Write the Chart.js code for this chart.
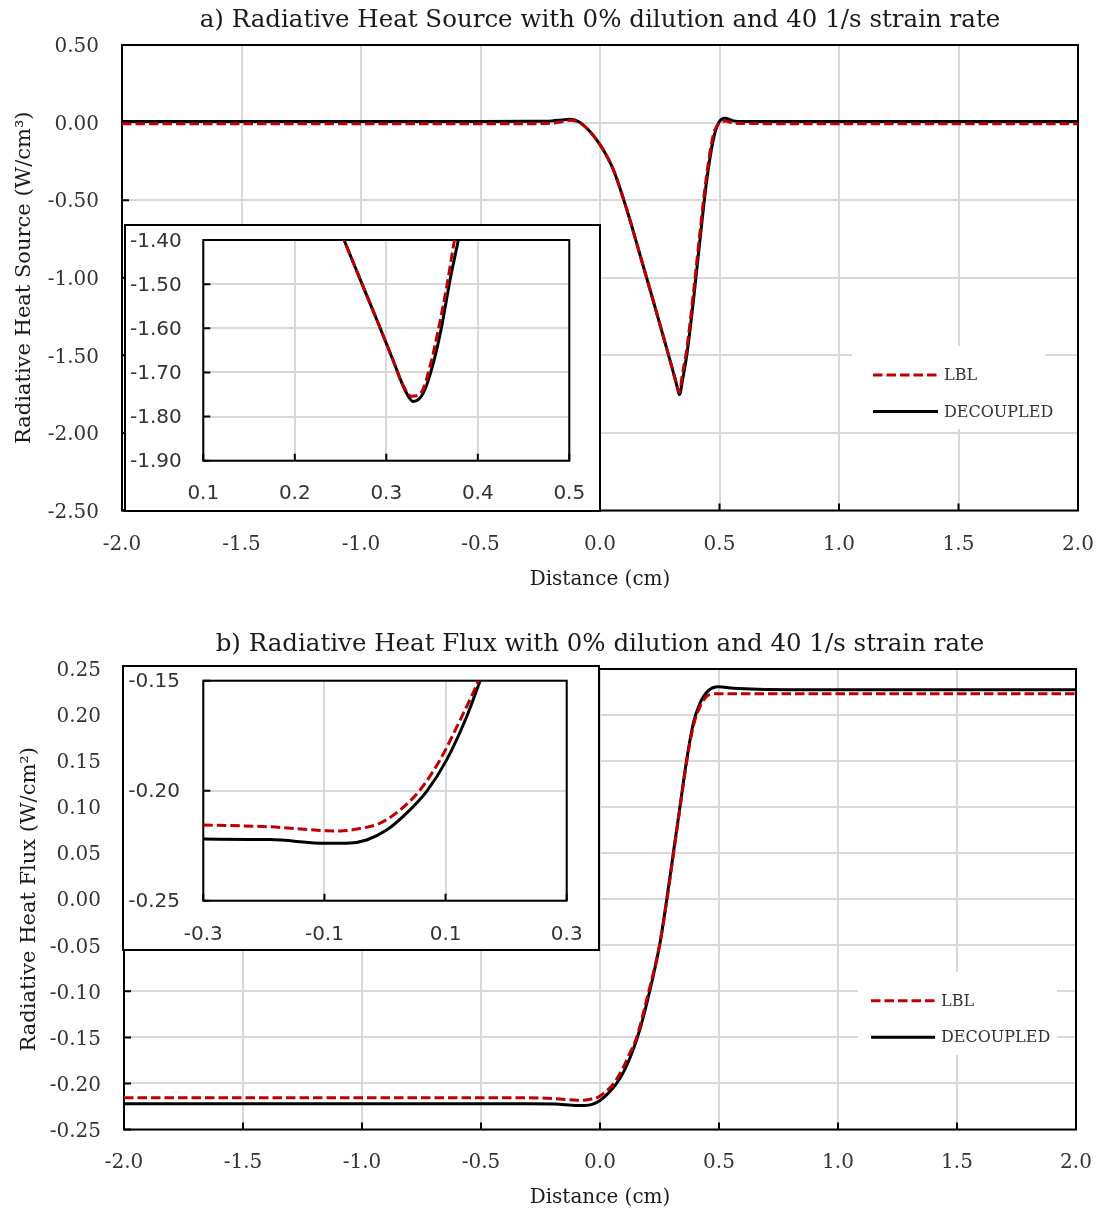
<!DOCTYPE html>
<html>
<head>
<meta charset="utf-8">
<script src="https://cdn.jsdelivr.net/npm/chart.js@4.4.1/dist/chart.umd.min.js"></script>
<style>
  body { margin: 0; background: #fff; }
  #wrap { position: relative; width: 1101px; height: 1213px; overflow: hidden; }
  #wrap canvas { position: absolute; left: 0; top: 0; }
  .inset { position: absolute; box-sizing: border-box; border: 2px solid #000; background: #fff; }
  .inset canvas { position: absolute; left: 0; top: 0; }
</style>
</head>
<body>
<div id="wrap">
  <canvas id="srcChart" width="1101" height="600" style="top:0"></canvas>
  <div class="inset" style="left:124px;top:224px;width:477px;height:288px">
    <canvas id="srcInset" width="473" height="284"></canvas>
  </div>
  <canvas id="fluxChart" width="1101" height="593" style="top:620px"></canvas>
  <div class="inset" style="left:122px;top:665px;width:478px;height:286px">
    <canvas id="fluxInset" width="474" height="282"></canvas>
  </div>
</div>
<script>
// a) radiative heat source, full range
const srcX   = [-2.0, -1.0, -0.5, -0.3, -0.2, -0.16, -0.125, -0.085, -0.042, -0.014, 0.014, 0.056, 0.112, 0.167, 0.223, 0.279, 0.305, 0.318, 0.327, 0.332, 0.337, 0.343, 0.363, 0.39, 0.418, 0.446, 0.474, 0.495, 0.523, 0.558, 0.6, 0.8, 1.2, 2.0];
const srcDec = [0.007, 0.007, 0.007, 0.008, 0.011, 0.017, 0.021, 0.002, -0.058, -0.111, -0.176, -0.304, -0.56, -0.85, -1.15, -1.455, -1.60, -1.675, -1.728, -1.752, -1.735, -1.68, -1.50, -1.16, -0.76, -0.38, -0.11, -0.005, 0.028, 0.011, 0.007, 0.007, 0.007, 0.007];
const srcLbl = [-0.007, -0.007, -0.007, -0.007, -0.004, 0.006, 0.015, 0.0, -0.058, -0.111, -0.176, -0.304, -0.56, -0.85, -1.15, -1.455, -1.60, -1.671, -1.72, -1.738, -1.71, -1.64, -1.46, -1.11, -0.71, -0.34, -0.08, -0.01, 0.01, -0.003, -0.006, -0.007, -0.007, -0.007];

// a) inset, 0.1 - 0.5 cm
const srcInsetDecX = [0.245, 0.2538, 0.271, 0.2895, 0.3077, 0.3204, 0.3295, 0.3404, 0.3514, 0.3605, 0.3696, 0.3787, 0.385];
const srcInsetDec  = [-1.355, -1.40, -1.487, -1.580, -1.674, -1.740, -1.766, -1.747, -1.679, -1.596, -1.491, -1.40, -1.33];
const srcInsetLblX = [0.245, 0.2538, 0.271, 0.2895, 0.3077, 0.318, 0.3277, 0.3386, 0.3477, 0.3568, 0.366, 0.3745, 0.38];
const srcInsetLbl  = [-1.355, -1.40, -1.487, -1.580, -1.674, -1.728, -1.754, -1.744, -1.687, -1.604, -1.506, -1.40, -1.34];

// b) radiative heat flux, full range
const fluxDecX = [-2.0, -1.0, -0.5, -0.3, -0.19, -0.096, -0.063, -0.03, 0.003, 0.036, 0.069, 0.102, 0.135, 0.168, 0.21, 0.252, 0.28, 0.308, 0.336, 0.364, 0.392, 0.42, 0.455, 0.497, 0.56, 0.8, 1.2, 2.0];
const fluxDec  = [-0.222, -0.222, -0.222, -0.222, -0.2222, -0.2239, -0.2239, -0.2224, -0.2179, -0.2102, -0.2003, -0.186, -0.1664, -0.141, -0.0985, -0.0478, -0.0008, 0.0499, 0.1005, 0.151, 0.191, 0.2128, 0.2265, 0.2308, 0.229, 0.2275, 0.2275, 0.2275];
const fluxLblX = [-2.0, -1.0, -0.5, -0.3, -0.19, -0.096, -0.074, -0.041, -0.008, 0.025, 0.058, 0.091, 0.124, 0.154, 0.2, 0.25, 0.28, 0.308, 0.336, 0.364, 0.392, 0.42, 0.455, 0.5, 0.6, 1.0, 2.0];
const fluxLbl  = [-0.2156, -0.2156, -0.2156, -0.2156, -0.2165, -0.2182, -0.2183, -0.2172, -0.2148, -0.2088, -0.1997, -0.186, -0.1679, -0.15, -0.105, -0.05, -0.003, 0.048, 0.099, 0.149, 0.188, 0.209, 0.2215, 0.2232, 0.223, 0.223, 0.223];

// b) inset, -0.3 - 0.3 cm
const fluxInsetDecX = [-0.3, -0.19, -0.0963, -0.0633, -0.0303, 0.0027, 0.0357, 0.0688, 0.1018, 0.1348, 0.157, 0.17];
const fluxInsetDec  = [-0.222, -0.2222, -0.2239, -0.2239, -0.2224, -0.2179, -0.2102, -0.2003, -0.186, -0.1664, -0.15, -0.14];
const fluxInsetLblX = [-0.3, -0.19, -0.0963, -0.074, -0.0413, -0.0083, 0.0248, 0.0578, 0.0908, 0.124, 0.1541, 0.165];
const fluxInsetLbl  = [-0.2156, -0.2164, -0.2182, -0.2183, -0.2172, -0.2148, -0.2088, -0.1997, -0.186, -0.1679, -0.15, -0.142];

const seriesNames = ['LBL', 'DECOUPLED'];
const lblColor = '#c00000';
const decColor = '#000000';
const gridColor = '#d9d9d9';
const textColor = '#333333';
const noTick = 'rgba(0,0,0,0)';

Chart.defaults.font.family = "'DejaVu Serif', serif";
Chart.defaults.color = textColor;

function toPoints(xs, ys) {
  return xs.map((x, i) => ({ x: x, y: ys[i] }));
}

function fmt(digits) {
  return v => (Math.abs(v) < 1e-9 ? 0 : v).toFixed(digits);
}

// frame around the plot area plus inward tick marks on the axes
const framePlugin = {
  id: 'frame',
  beforeDatasetsDraw(chart) {
    const { ctx, chartArea: a, scales } = chart;
    ctx.save();
    ctx.strokeStyle = '#000';
    ctx.lineWidth = 2;
    ctx.strokeRect(a.left, a.top, a.right - a.left, a.bottom - a.top);
    ctx.beginPath();
    scales.x.ticks.forEach(t => {
      const px = scales.x.getPixelForValue(t.value);
      ctx.moveTo(px, a.bottom);
      ctx.lineTo(px, a.bottom - 7);
    });
    scales.y.ticks.forEach(t => {
      const py = scales.y.getPixelForValue(t.value);
      ctx.moveTo(a.left, py);
      ctx.lineTo(a.left + 7, py);
    });
    ctx.stroke();
    ctx.restore();
  }
};

// legend drawn inside the plot area on a white box
const boxLegendPlugin = {
  id: 'boxLegend',
  afterDatasetsDraw(chart, args, opts) {
    if (!opts.box) return;
    const { ctx } = chart;
    const b = opts.box;
    ctx.save();
    ctx.fillStyle = '#fff';
    ctx.fillRect(b.x, b.y, b.w, b.h);
    ctx.font = "16px 'DejaVu Serif', serif";
    ctx.textBaseline = 'middle';
    ctx.fillStyle = textColor;
    chart.data.datasets.forEach((ds, i) => {
      const y = opts.rows[i];
      ctx.beginPath();
      ctx.strokeStyle = ds.borderColor;
      ctx.lineWidth = 3;
      ctx.setLineDash(ds.borderDash || []);
      ctx.moveTo(opts.lineX[0], y);
      ctx.lineTo(opts.lineX[1], y);
      ctx.stroke();
      ctx.setLineDash([]);
      ctx.fillText(ds.label, opts.textX, y + 1);
    });
    ctx.restore();
  }
};

function makeDatasets(lblX, lbl, decX, dec) {
  return [{
    label: seriesNames[0],
    data: toPoints(lblX, lbl),
    borderColor: lblColor,
    borderWidth: 3,
    borderDash: [9.5, 4],
    pointRadius: 0,
    showLine: true,
    cubicInterpolationMode: 'monotone',
    order: 1
  }, {
    label: seriesNames[1],
    data: toPoints(decX, dec),
    borderColor: decColor,
    borderWidth: 3,
    pointRadius: 0,
    showLine: true,
    cubicInterpolationMode: 'monotone',
    order: 2
  }];
}

// tick labels are pushed away with an invisible tick mark instead of ticks.padding,
// so the label padding does not eat into the plot area
function gridOpts(offset) {
  return { color: gridColor, lineWidth: 2, drawTicks: true, tickLength: offset, tickColor: noTick };
}

function mainChart(canvasId, cfg) {
  return new Chart(document.getElementById(canvasId), {
    type: 'scatter',
    data: { datasets: makeDatasets(cfg.lblX, cfg.lbl, cfg.decX, cfg.dec) },
    plugins: [framePlugin, boxLegendPlugin],
    options: {
      responsive: false,
      animation: false,
      layout: { padding: { left: 0, right: cfg.padRight, top: 0, bottom: 0 } },
      plugins: {
        legend: { display: false },
        tooltip: { enabled: false },
        title: {
          display: true,
          fullSize: false,
          text: cfg.title,
          color: '#1a1a1a',
          font: { size: 24.5, weight: 'normal' },
          padding: { top: cfg.titleTop, bottom: cfg.titleBottom }
        },
        boxLegend: cfg.legend
      },
      scales: {
        x: {
          type: 'linear',
          min: -2, max: 2,
          afterFit: s => { s.height = cfg.xHeight; },
          ticks: { stepSize: 0.5, padding: 0, maxRotation: 0, autoSkip: false, font: { size: 20 }, callback: fmt(1) },
          grid: gridOpts(cfg.xTickPad),
          border: { display: false },
          title: { display: true, text: 'Distance (cm)', color: '#1a1a1a', font: { size: 20 }, padding: { top: 0, bottom: cfg.xTitlePad } }
        },
        y: {
          type: 'linear',
          min: cfg.yMin, max: cfg.yMax,
          afterFit: s => { s.width = cfg.yWidth; },
          ticks: { stepSize: cfg.yStep, padding: 0, labelOffset: 2, autoSkip: false, font: { size: 20 }, callback: fmt(2) },
          grid: gridOpts(23),
          border: { display: false },
          title: { display: true, text: cfg.yTitle, color: '#1a1a1a', font: { size: 21 }, padding: { top: cfg.yTitlePad, bottom: 0 } }
        }
      }
    }
  });
}

function insetChart(canvasId, cfg) {
  const insetFont = { family: "'DejaVu Sans', sans-serif", size: 20 };
  return new Chart(document.getElementById(canvasId), {
    type: 'scatter',
    data: { datasets: makeDatasets(cfg.lblX, cfg.lbl, cfg.decX, cfg.dec) },
    plugins: [framePlugin],
    options: {
      responsive: false,
      animation: false,
      layout: { padding: { left: 0, right: cfg.padRight, top: cfg.padTop, bottom: 0 } },
      plugins: { legend: { display: false }, tooltip: { enabled: false }, title: { display: false } },
      scales: {
        x: {
          type: 'linear',
          min: cfg.xMin, max: cfg.xMax,
          afterFit: s => { s.height = cfg.xHeight; },
          ticks: { stepSize: cfg.xStep, padding: 0, maxRotation: 0, autoSkip: false, font: insetFont, callback: fmt(1) },
          grid: gridOpts(cfg.xTickPad),
          border: { display: false }
        },
        y: {
          type: 'linear',
          min: cfg.yMin, max: cfg.yMax,
          afterFit: s => { s.width = cfg.yWidth; },
          ticks: { stepSize: cfg.yStep, padding: 0, labelOffset: 1.5, autoSkip: false, font: insetFont, callback: fmt(2) },
          grid: gridOpts(cfg.yTickPad),
          border: { display: false }
        }
      }
    }
  });
}

mainChart('srcChart', {
  title: 'a) Radiative Heat Source with 0% dilution and 40 1/s strain rate',
  yTitle: 'Radiative Heat Source (W/cm³)',
  lblX: srcX, lbl: srcLbl, decX: srcX, dec: srcDec,
  yMin: -2.5, yMax: 0.5, yStep: 0.5,
  padRight: 23, titleTop: 6, titleBottom: 9.6,
  xHeight: 89.5, xTickPad: 22.5, xTitlePad: 8,
  yWidth: 122, yTitlePad: 12,
  legend: { box: { x: 852, y: 346, w: 193, h: 83 }, rows: [375, 411.5], lineX: [873, 938], textX: 944 }
});

insetChart('srcInset', {
  lblX: srcInsetLblX, lbl: srcInsetLbl, decX: srcInsetDecX, dec: srcInsetDec,
  xMin: 0.1, xMax: 0.5, xStep: 0.1,
  yMin: -1.9, yMax: -1.4, yStep: 0.1,
  padRight: 29.7, padTop: 14,
  xHeight: 49.3, xTickPad: 21,
  yWidth: 77.3, yTickPad: 21.6
});

mainChart('fluxChart', {
  title: 'b) Radiative Heat Flux with 0% dilution and 40 1/s strain rate',
  yTitle: 'Radiative Heat Flux (W/cm²)',
  lblX: fluxLblX, lbl: fluxLbl, decX: fluxDecX, dec: fluxDec,
  yMin: -0.25, yMax: 0.25, yStep: 0.05,
  padRight: 25, titleTop: 10, titleBottom: 9.6,
  xHeight: 83.5, xTickPad: 21.5, xTitlePad: 3,
  yWidth: 124, yTitlePad: 17,
  legend: { box: { x: 858, y: 352, w: 199, h: 83 }, rows: [380.7, 417.3], lineX: [871, 935], textX: 941 }
});

insetChart('fluxInset', {
  lblX: fluxInsetLblX, lbl: fluxInsetLbl, decX: fluxInsetDecX, dec: fluxInsetDec,
  xMin: -0.3, xMax: 0.3, xStep: 0.2,
  yMin: -0.25, yMax: -0.15, yStep: 0.05,
  padRight: 31.3, padTop: 13.7,
  xHeight: 48.3, xTickPad: 21.6,
  yWidth: 79.3, yTickPad: 23.3
});
</script>
</body>
</html>
